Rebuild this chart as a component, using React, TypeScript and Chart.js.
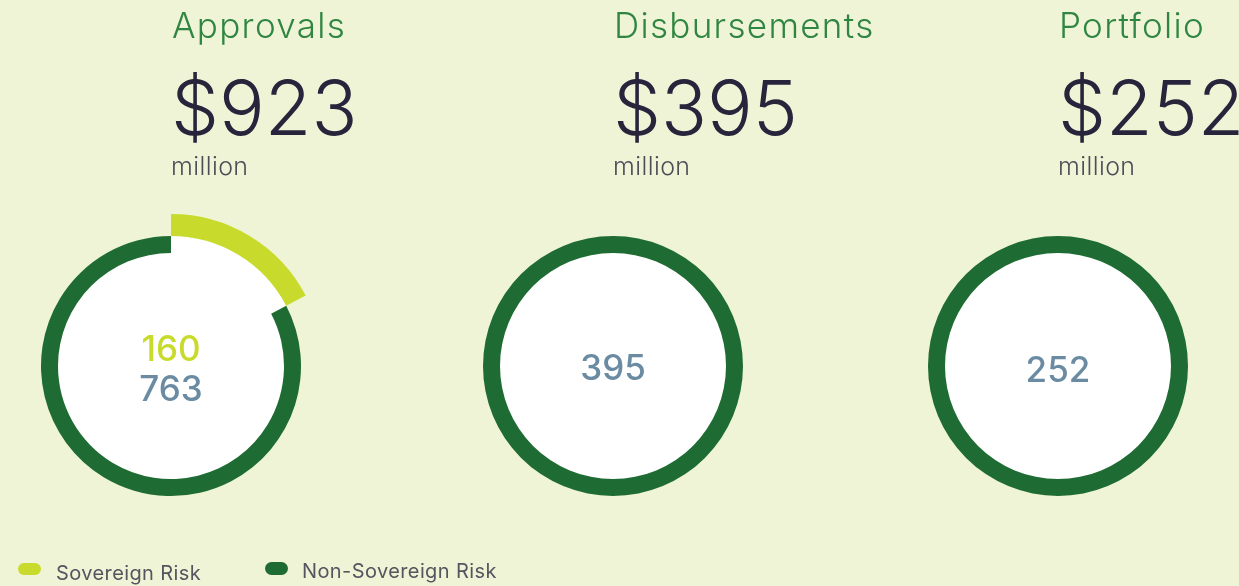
import React, { useEffect, useRef } from 'react';
import { Chart, registerables } from 'chart.js';

Chart.register(...registerables);

// ---- data ----
const categories = ['Approvals', 'Disbursements', 'Portfolio'];
const totals = [923, 395, 252];
const sovereign = [160, 0, 0];
const nonSovereign = [763, 395, 252];
const seriesLabels = ['Sovereign Risk', 'Non-Sovereign Risk'];
const unitLabel = 'million';

// ---- layout / style ----
const W = 1239;
const H = 586;
const colX = [171, 613, 1058];
const CY = 366;
const OUTER_R = 152;
const INNER_R = 113;
const BG = '#F0F4D6';
const LIME = '#C8DB2D';
const DKGREEN = '#1E6C33';
const SLATE = '#6B8BA3';
const TITLE = '#2F8542';
const NAVY = '#27243B';
const GRAY = '#4D4D57';
const LEGEND_TEXT = '#55555F';
const FONT = 'Inter, "Noto Sans", sans-serif';

function panelPlugin(i: number) {
  return {
    id: 'panel' + i,
    beforeDatasetsDraw(chart: any) {
      const arc = chart.getDatasetMeta(1).data[1];
      const ctx = chart.ctx;
      ctx.save();
      ctx.fillStyle = '#FFFFFF';
      ctx.beginPath();
      ctx.arc(arc.x, arc.y, INNER_R + 0.5, 0, Math.PI * 2);
      ctx.fill();
      ctx.restore();
    },
    afterDraw(chart: any) {
      const arc = chart.getDatasetMeta(1).data[1];
      const x = arc.x;
      const y = arc.y;
      const ctx = chart.ctx;
      ctx.save();
      ctx.textBaseline = 'alphabetic';
      ctx.textAlign = 'left';
      ctx.fillStyle = TITLE;
      ctx.font = `300 35px ${FONT}`;
      ctx.letterSpacing = '1.3px';
      ctx.fillText(categories[i], x + 1, 38);
      ctx.fillStyle = NAVY;
      ctx.font = `300 76px ${FONT}`;
      ctx.letterSpacing = '0px';
      ctx.fillText('$' + totals[i], x, 135);
      ctx.fillStyle = GRAY;
      ctx.font = `300 25px ${FONT}`;
      ctx.letterSpacing = '0.4px';
      ctx.fillText(unitLabel, x, 175);

      ctx.letterSpacing = '0px';
      ctx.textAlign = 'center';
      ctx.font = `500 35px ${FONT}`;
      if (sovereign[i] > 0) {
        ctx.fillStyle = LIME;
        ctx.fillText(String(sovereign[i]), x, y - 5);
        ctx.fillStyle = SLATE;
        ctx.fillText(String(nonSovereign[i]), x, y + 35);
      } else {
        ctx.fillStyle = SLATE;
        ctx.fillText(String(nonSovereign[i]), x, y + 14 + (i === 2 ? 2 : 0));
      }

      if (i === 0) {
        const items = [
          { color: LIME, bx: 18, by: 563, bh: 12, tx: 56, ty: 580 },
          { color: DKGREEN, bx: 265, by: 562, bh: 13, tx: 302, ty: 578 },
        ];
        ctx.textAlign = 'left';
        ctx.font = `400 20px ${FONT}`;
        ctx.letterSpacing = '0.4px';
        items.forEach((it, k) => {
          ctx.fillStyle = it.color;
          ctx.beginPath();
          (ctx as any).roundRect(it.bx, it.by, 23, it.bh, it.bh / 2);
          ctx.fill();
          ctx.fillStyle = LEGEND_TEXT;
          ctx.fillText(seriesLabels[k], it.tx, it.ty);
        });
      }
      ctx.restore();
    },
  };
}

function Panel({ index }: { index: number }) {
  const ref = useRef<HTMLCanvasElement | null>(null);
  useEffect(() => {
    if (!ref.current) return;
    const cx = colX[index];
    const chart = new Chart(ref.current, {
      type: 'doughnut',
      data: {
        labels: seriesLabels,
        datasets: [
          {
            data: [sovereign[index], nonSovereign[index]],
            backgroundColor: [LIME, 'rgba(0,0,0,0)'],
            borderWidth: 0,
            weight: OUTER_R - 130,
          } as any,
          {
            data: [sovereign[index], nonSovereign[index]],
            backgroundColor: ['#FFFFFF', DKGREEN],
            borderWidth: 0,
            weight: 130 - INNER_R,
          } as any,
        ],
      },
      options: {
        responsive: false,
        animation: false,
        events: [],
        radius: OUTER_R,
        cutout: (INNER_R / OUTER_R) * 100 + '%',
        layout: {
          padding: { left: cx - 171, right: W - (cx + 171), top: 2 * CY - H, bottom: 0 },
        },
        plugins: { legend: { display: false }, tooltip: { enabled: false } },
      } as any,
      plugins: [panelPlugin(index)],
    });
    return () => chart.destroy();
  }, [index]);
  return (
    <canvas
      ref={ref}
      width={W}
      height={H}
      style={{ position: 'absolute', left: 0, top: 0, width: W, height: H }}
    />
  );
}

export default function App() {
  return (
    <div
      style={{
        position: 'fixed',
        left: 0,
        top: 0,
        width: W,
        height: H,
        background: BG,
        overflow: 'hidden',
      }}
    >
      {categories.map((_, i) => (
        <Panel key={i} index={i} />
      ))}
    </div>
  );
}
